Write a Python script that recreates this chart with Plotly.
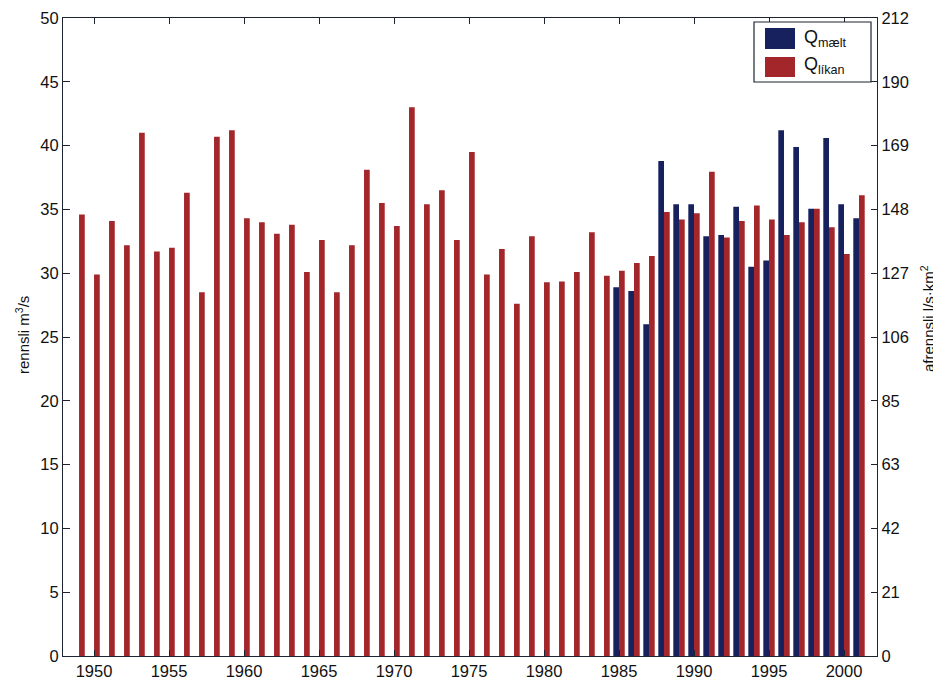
import plotly.graph_objects as go

# ---- data ----
years = list(range(1949, 2002))
q_likan = [34.6, 29.9, 34.1, 32.2, 41.0, 31.7, 32.0, 36.3, 28.5, 40.7,
           41.2, 34.3, 34.0, 33.1, 33.8, 30.1, 32.6, 28.5, 32.2, 38.1,
           35.5, 33.7, 43.0, 35.4, 36.5, 32.6, 39.5, 29.9, 31.9, 27.6,
           32.9, 29.3, 29.35, 30.1, 33.2, 29.8, 30.2, 30.8, 31.35, 34.8,
           34.2, 34.7, 37.95, 32.8, 34.1, 35.3, 34.2, 33.0, 34.0, 35.05,
           33.6, 31.5, 36.1]
years_maelt = list(range(1985, 2002))
q_maelt = [28.9, 28.6, 26.0, 38.8, 35.4, 35.4, 32.9, 33.0, 35.2, 30.5,
           31.0, 41.2, 39.9, 35.05, 40.6, 35.4, 34.3]
left_ticks = [0, 5, 10, 15, 20, 25, 30, 35, 40, 45, 50]
right_ticks = ["0", "21", "42", "63", "85", "106", "127", "148", "169", "190", "212"]
x_ticks = [1950, 1955, 1960, 1965, 1970, 1975, 1980, 1985, 1990, 1995, 2000]

BLUE = "#17215e"
RED = "#a3262a"
AX = "#1d2330"
FONT = "Liberation Sans, Arial, sans-serif"
conv = 212 / 50

fig = go.Figure()
fig.add_trace(go.Bar(x=years_maelt, y=q_maelt, name="Q<sub>mælt</sub>",
                     marker=dict(color=BLUE, line=dict(width=0)), showlegend=False))
fig.add_trace(go.Bar(x=years, y=q_likan, name="Q<sub>líkan</sub>",
                     marker=dict(color=RED, line=dict(width=0)), showlegend=False))
# invisible trace to anchor the right-hand axis (specific runoff)
fig.add_trace(go.Scatter(x=years, y=[v * conv for v in q_likan], yaxis="y2",
                         mode="markers", marker=dict(opacity=0), hoverinfo="skip",
                         showlegend=False))

# page has an 8px body margin; lay out in page pixels
OFF = 8
W, H = 941 - OFF, 683 - OFF
L, R, T, B = 63, 877, 18, 656          # plot area in page pixels
ml, mr, mt, mb = L - OFF, W - (R - OFF), T - OFF, H - (B - OFF)
pw, ph = R - L, B - T

def px(x):
    return (x - L) / pw

def py(y):
    return (B - y) / ph

shapes = [
    dict(type="rect", xref="paper", yref="paper", x0=px(754), x1=px(871), y0=py(82), y1=py(22),
         line=dict(color=AX, width=1.2), fillcolor="white", layer="above"),
    dict(type="rect", xref="paper", yref="paper", x0=px(765), x1=px(795), y0=py(49), y1=py(28),
         line=dict(width=0), fillcolor=BLUE, layer="above"),
    dict(type="rect", xref="paper", yref="paper", x0=px(765), x1=px(795), y0=py(77), y1=py(57),
         line=dict(width=0), fillcolor=RED, layer="above"),
]
annotations = [
    dict(xref="paper", yref="paper", x=px(802), y=py(38), xanchor="left", yanchor="middle",
         text="Q<sub>mælt</sub>", showarrow=False, font=dict(family=FONT, size=18, color="#111")),
    dict(xref="paper", yref="paper", x=px(802), y=py(66), xanchor="left", yanchor="middle",
         text="Q<sub>líkan</sub>", showarrow=False, font=dict(family=FONT, size=18, color="#111")),
    dict(xref="paper", yref="paper", x=px(22), y=py(335), xanchor="center", yanchor="middle",
         text="rennsli m<sup>3</sup>/s", textangle=-90, showarrow=False,
         font=dict(family=FONT, size=15, color="#111")),
    dict(xref="paper", yref="paper", x=px(927), y=py(318), xanchor="center", yanchor="middle",
         text="afrennsli l/s·km<sup>2</sup>", textangle=-90, showarrow=False,
         font=dict(family=FONT, size=15, color="#111")),
]

fig.update_layout(
    width=W, height=H,
    margin=dict(l=ml, r=mr, t=mt, b=mb, autoexpand=False),
    paper_bgcolor="white", plot_bgcolor="white",
    barmode="group", bargap=0.24, bargroupgap=0,
    font=dict(family=FONT, size=16, color="#111"),
    shapes=shapes, annotations=annotations,
    xaxis=dict(range=[1947.93, 2002.2], tickvals=x_ticks, ticks="inside", ticklen=6,
               tickcolor=AX, showline=True, linecolor=AX, linewidth=1.2, mirror="ticks",
               showgrid=False, zeroline=False, tickfont=dict(size=16.5), automargin=False,
               ticklabeloverflow="allow"),
    yaxis=dict(range=[0, 50], tickvals=left_ticks, ticks="inside", ticklen=7,
               tickcolor=AX, showline=True, linecolor=AX, linewidth=1.2,
               showgrid=False, zeroline=False, tickfont=dict(size=16.5), automargin=False,
               ticklabeloverflow="allow"),
    yaxis2=dict(range=[0, 212], overlaying="y", side="right",
                tickvals=[i * 212 / 10 for i in range(11)], ticktext=right_ticks,
                ticks="inside", ticklen=6, tickcolor=AX, showline=True, linecolor=AX,
                linewidth=1.2, showgrid=False, zeroline=False, tickfont=dict(size=16.5),
                automargin=False, ticklabeloverflow="allow"),
)

fig.write_html("out.html")
